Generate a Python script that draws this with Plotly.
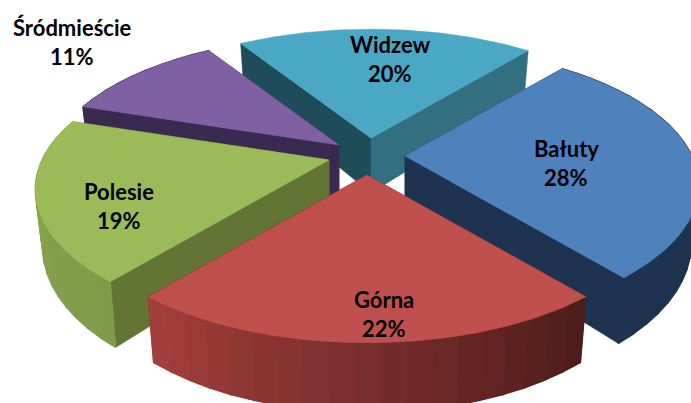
import numpy as np
import plotly.graph_objects as go

# Data
names = ["Widzew", "Śródmieście", "Polesie", "Bałuty", "Górna"]
values = [20, 11, 19, 28, 22]
label_xy = [(390, 44), (72, 27), (119, 191), (566, 148), (384, 299)]

# Order of the slices clockwise from the start angle
clock_order = ["Widzew", "Bałuty", "Górna", "Polesie", "Śródmieście"]
start_angle = -32.4

# Styling / projection of the tilted, exploded pie
apex = {"Widzew": (371, 138), "Śródmieście": (339, 145), "Polesie": (329, 160),
        "Bałuty": (405, 156), "Górna": (367, 175)}
top_col = {"Widzew": "#4aa8c5", "Śródmieście": "#8060a2", "Polesie": "#9bbb59",
           "Bałuty": "#4f81bd", "Górna": "#c0504d"}
# faces: cut face at the start edge, cut face at the end edge
start_face = {"Widzew": "#1f4c59", "Śródmieście": "#3a2a52", "Polesie": "#627535",
              "Bałuty": "#1d3350", "Górna": "#4e1d1a"}
end_face = {"Widzew": "#33707f", "Śródmieście": "#3a2a52", "Polesie": "#627535",
            "Bałuty": "#1d3350", "Górna": "#4e1d1a"}
rim_from = {"Śródmieście": "#3a2a52", "Polesie": "#7f9c49",
            "Bałuty": "#1d3350", "Górna": "#4e1d1a"}
rim_to = {"Śródmieście": "#3a2a52", "Polesie": "#8aa64f",
          "Bałuty": "#1d3350", "Górna": "#a23e3c"}
paint_order = ["Widzew", "Śródmieście", "Polesie", "Bałuty", "Górna"]

A, B, K = 287.0, 132.0, 0.213
DEPTH, SHRINK = 55.0, 0.975


def project(t_deg, ap, bottom=False):
    t = np.radians(t_deg)
    s = 1.0 / (1.0 + K * np.cos(t))
    x = A * np.sin(t) * s
    y = -B * np.cos(t) * s
    if bottom:
        return ap[0] + x * SHRINK, ap[1] + y + DEPTH * s
    return ap[0] + x, ap[1] + y


def mix(c1, c2, f):
    a = [int(c1[i:i + 2], 16) for i in (1, 3, 5)]
    b = [int(c2[i:i + 2], 16) for i in (1, 3, 5)]
    return "rgb(%d,%d,%d)" % tuple(round(p + (q - p) * f) for p, q in zip(a, b))


fig = go.Figure()


def poly(xs, ys, color, lw=0.6):
    fig.add_trace(go.Scatter(x=list(xs) + [xs[0]], y=list(ys) + [ys[0]], mode="lines",
                             fill="toself", fillcolor=color,
                             line=dict(color=color, width=lw),
                             hoverinfo="skip", showlegend=False))


value_of = dict(zip(names, values))
ranges = {}
cur = start_angle
for n in clock_order:
    sweep = value_of[n] * 3.6
    ranges[n] = (cur, cur + sweep)
    cur += sweep

for n in paint_order:
    t0, t1 = ranges[n]
    ap = apex[n]
    ap_b = (ap[0], ap[1] + DEPTH)
    # cut faces
    for t, col in ((t0, start_face[n]), (t1, end_face[n])):
        x1, y1 = project(t, ap)
        x2, y2 = project(t, ap, True)
        poly([ap[0], x1, x2, ap_b[0]], [ap[1], y1, y2, ap_b[1]], col)
    # rim, in strips for the shading (the back slice shows no rim)
    if n in rim_from:
        steps = max(4, int((t1 - t0) / 4))
        edges = np.linspace(t0, t1, steps + 1)
        for i in range(steps):
            ts = np.linspace(edges[i], edges[i + 1], 4)
            up = [project(t, ap) for t in ts]
            lo = [project(t, ap, True) for t in ts[::-1]]
            pts = up + lo
            poly([p[0] for p in pts], [p[1] for p in pts], mix(rim_from[n], rim_to[n], i / (steps - 1)), 1.4)
    # top
    ts = np.linspace(t0, t1, 90)
    arc = [project(t, ap) for t in ts]
    poly([ap[0]] + [p[0] for p in arc], [ap[1]] + [p[1] for p in arc], top_col[n])

for n, v, (lx, ly) in zip(names, values, label_xy):
    for txt, yy in ((n, ly), (f"{v}%", ly + 29)):
        fig.add_annotation(x=lx, y=yy, text=f"<b>{txt}</b>", showarrow=False,
                           font=dict(family="Lato", size=22, color="#000000"),
                           xanchor="center", yanchor="middle")

fig.update_xaxes(range=[0, 691], visible=False, fixedrange=True)
fig.update_yaxes(range=[403, 0], visible=False, fixedrange=True)
fig.update_layout(width=691, height=403, margin=dict(l=0, r=0, t=0, b=0),
                  paper_bgcolor="white", plot_bgcolor="white", showlegend=False)
fig.write_html("out.html", config=dict(displayModeBar=False),
               post_script="document.body.style.margin='0';document.documentElement.style.overflow='hidden';")
